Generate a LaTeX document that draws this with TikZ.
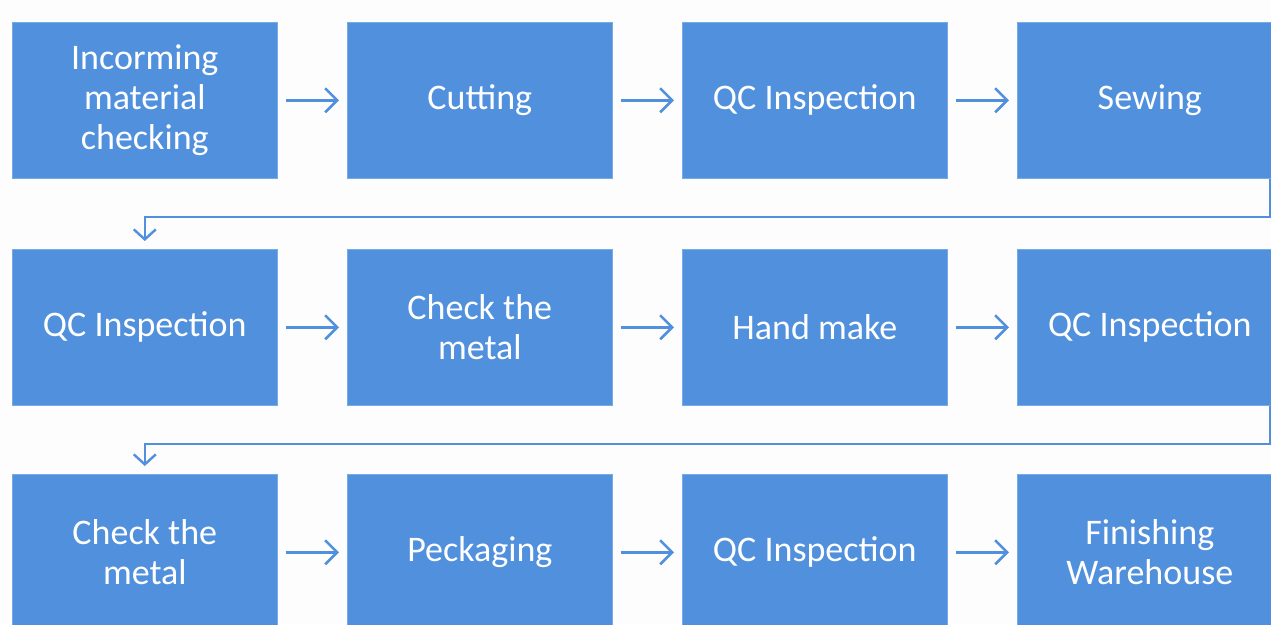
\documentclass[tikz,border=0pt]{standalone}
\usepackage{fontspec}
\setmainfont{Carlito}
\usetikzlibrary{arrows.meta,positioning,calc}
\definecolor{boxblue}{RGB}{81,144,221}
\definecolor{boxedge}{RGB}{120,170,230}
\definecolor{bg}{RGB}{253,253,253}
\tikzset{
  stepbox/.style={rectangle, fill=boxblue, draw=boxedge, line width=0.6pt,
    minimum width=265pt, minimum height=156pt, inner sep=0pt,
    anchor=north west, align=center, text=white,
    font=\fontsize{36}{40}\selectfont},
  flow/.style={draw=boxblue, line width=2.6pt,
    -{Straight Barb[length=12pt,width=24pt,line width=2.6pt]}},
  wrap/.style={draw=boxblue, line width=2.2pt,
    -{Straight Barb[length=10pt,width=22pt,line width=2.4pt]}}
}
\begin{document}
\begin{tikzpicture}[x=1pt,y=1pt]
  \useasboundingbox (0,0) rectangle (1271,-624);
  \clip (0,0) rectangle (1271,-624);
  \fill[bg] (0,0) rectangle (1271,-624);

  % first row
  \node[stepbox] (a1) at (12,-22)   {Incorming\\material\\checking};
  \node[stepbox] (a2) at (347,-22)  {Cutting};
  \node[stepbox] (a3) at (682,-22)  {QC Inspection};
  \node[stepbox] (a4) at (1017,-22) {Sewing};

  % second row
  \node[stepbox] (b1) at (12,-249)   {QC Inspection};
  \node[stepbox] (b2) at (347,-249)  {Check the\\metal};
  \node[stepbox] (b3) at (682,-249)  {Hand make};
  \node[stepbox] (b4) at (1017,-249) {QC Inspection};

  % third row
  \node[stepbox] (c1) at (12,-474)   {Check the\\metal};
  \node[stepbox] (c2) at (347,-474)  {Peckaging};
  \node[stepbox] (c3) at (682,-474)  {QC Inspection};
  \node[stepbox] (c4) at (1017,-474) {Finishing\\Warehouse};

  % arrows within each row
  \foreach \r in {a,b,c}{
    \draw[flow] ([xshift=8pt]\r1.east) -- ([xshift=-8pt]\r2.west);
    \draw[flow] ([xshift=8pt]\r2.east) -- ([xshift=-8pt]\r3.west);
    \draw[flow] ([xshift=8pt]\r3.east) -- ([xshift=-8pt]\r4.west);
  }

  % wrap-around connectors between rows
  \draw[wrap] ([xshift=-13pt]a4.south east) -- ++(0,-38) -| ([yshift=8pt]b1.north);
  \draw[wrap] ([xshift=-13pt]b4.south east) -- ++(0,-38) -| ([yshift=8pt]c1.north);
\end{tikzpicture}
\end{document}
